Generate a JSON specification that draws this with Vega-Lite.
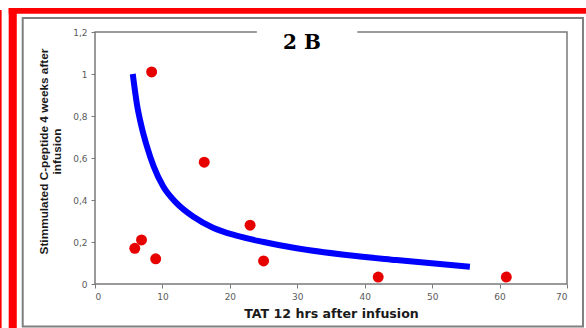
{
  "$schema": "https://vega.github.io/schema/vega-lite/v6.json",
  "width": 472,
  "height": 252,
  "autosize": {"type": "none"},
  "padding": {"left": 95, "top": 32, "right": 19, "bottom": 44},
  "background": "white",
  "title": {"text": "2 B", "font": "DejaVu Serif", "fontSize": 20, "fontWeight": "bold", "color": "#000000", "anchor": "middle", "dx": -29, "baseline": "alphabetic", "offset": -61},
  "config": {
    "view": {"stroke": "#7a7a7a", "strokeWidth": 1.5},
    "axis": {"grid": false, "domain": false, "ticks": true, "tickColor": "#7a7a7a", "tickSize": 4, "labelFont": "DejaVu Sans", "labelFontSize": 9, "labelColor": "#5a5a5a", "labelPadding": 4}
  },
  "datasets": {
    "observed": [
      {"tat": 8.4, "cpeptide": 1.01},
      {"tat": 16.2, "cpeptide": 0.58},
      {"tat": 23.0, "cpeptide": 0.28},
      {"tat": 6.9, "cpeptide": 0.21},
      {"tat": 5.9, "cpeptide": 0.17},
      {"tat": 9.0, "cpeptide": 0.12},
      {"tat": 25.0, "cpeptide": 0.11},
      {"tat": 42.0, "cpeptide": 0.033},
      {"tat": 61.0, "cpeptide": 0.033}
    ],
    "trend": [
      {"tat": 5.6, "cpeptide": 1.0},
      {"tat": 6.2, "cpeptide": 0.86},
      {"tat": 6.9, "cpeptide": 0.75},
      {"tat": 7.7, "cpeptide": 0.655},
      {"tat": 8.7, "cpeptide": 0.56},
      {"tat": 10.1, "cpeptide": 0.465},
      {"tat": 12.1, "cpeptide": 0.385},
      {"tat": 14.6, "cpeptide": 0.32},
      {"tat": 17.5, "cpeptide": 0.268},
      {"tat": 21.0, "cpeptide": 0.23},
      {"tat": 25.0, "cpeptide": 0.2},
      {"tat": 29.9, "cpeptide": 0.17},
      {"tat": 37.3, "cpeptide": 0.138},
      {"tat": 44.7, "cpeptide": 0.114},
      {"tat": 55.6, "cpeptide": 0.082}
    ]
  },
  "layer": [
    {
      "data": {"values": [{}]},
      "mark": {"type": "rect", "color": "#ff0000"},
      "encoding": {
        "x": {"datum": -12.8, "type": "quantitative", "scale": {"domain": [0, 70], "nice": false}},
        "x2": {"datum": 74},
        "y": {"datum": 1.314, "type": "quantitative", "scale": {"domain": [0, 1.2], "nice": false}},
        "y2": {"datum": 1.287}
      }
    },
    {
      "data": {"values": [{}]},
      "mark": {"type": "rect", "color": "#ff0000"},
      "encoding": {
        "x": {"datum": -12.8, "type": "quantitative", "scale": {"domain": [0, 70], "nice": false}},
        "x2": {"datum": -11.6},
        "y": {"datum": 1.314, "type": "quantitative", "scale": {"domain": [0, 1.2], "nice": false}},
        "y2": {"datum": -0.25}
      }
    },
    {
      "data": {"values": [{}]},
      "mark": {"type": "rect", "color": "#ff0000"},
      "encoding": {
        "x": {"datum": -14.1, "type": "quantitative", "scale": {"domain": [0, 70], "nice": false}},
        "x2": {"datum": -13.85},
        "y": {"datum": 1.305, "type": "quantitative", "scale": {"domain": [0, 1.2], "nice": false}},
        "y2": {"datum": -0.25}
      }
    },
    {
      "data": {"values": [{}]},
      "mark": {"type": "rect", "fill": null, "fillOpacity": 0, "stroke": "#7f7f7f", "strokeWidth": 2},
      "encoding": {
        "x": {"datum": -10.72, "type": "quantitative", "scale": {"domain": [0, 70], "nice": false}},
        "x2": {"datum": 72.37},
        "y": {"datum": 1.267, "type": "quantitative", "scale": {"domain": [0, 1.2], "nice": false}},
        "y2": {"datum": -0.202}
      }
    },
    {
      "data": {"values": [{}]},
      "mark": {"type": "rect", "color": "#ffffff"},
      "encoding": {
        "x": {"datum": 24.0, "type": "quantitative", "scale": {"domain": [0, 70], "nice": false}},
        "x2": {"datum": 38.9},
        "y": {"datum": 1.225, "type": "quantitative", "scale": {"domain": [0, 1.2], "nice": false}},
        "y2": {"datum": 1.19}
      }
    },
    {
      "data": {"name": "trend"},
      "mark": {"type": "line", "color": "#0000ff", "strokeWidth": 6, "interpolate": "monotone", "strokeCap": "butt"},
      "encoding": {
        "x": {"field": "tat", "type": "quantitative", "scale": {"domain": [0, 70], "nice": false}},
        "y": {"field": "cpeptide", "type": "quantitative", "scale": {"domain": [0, 1.2], "nice": false}}
      }
    },
    {
      "data": {"name": "observed"},
      "mark": {"type": "point", "shape": "circle", "filled": true, "color": "#e60000", "opacity": 1, "size": 120},
      "encoding": {
        "x": {
          "field": "tat", "type": "quantitative",
          "scale": {"domain": [0, 70], "nice": false},
          "axis": {"values": [0, 10, 20, 30, 40, 50, 60, 70], "title": "TAT 12 hrs after infusion", "titleFont": "DejaVu Sans", "titleFontSize": 12.6, "titleFontWeight": "bold", "titleColor": "#1a1a1a", "titlePadding": 6}
        },
        "y": {
          "field": "cpeptide", "type": "quantitative",
          "scale": {"domain": [0, 1.2], "nice": false},
          "axis": {"values": [0, 0.2, 0.4, 0.6, 0.8, 1, 1.2], "labelExpr": "replace(format(datum.value, '~g'), '.', ',')", "title": ["Stimmulated C-peptide 4 weeks after", "infusion"], "titleFont": "Liberation Sans", "titleFontSize": 11.8, "titleFontWeight": "bold", "titleColor": "#1a1a1a", "titleLineHeight": 13, "titlePadding": 10, "titleY": 119}
        }
      }
    }
  ]
}
